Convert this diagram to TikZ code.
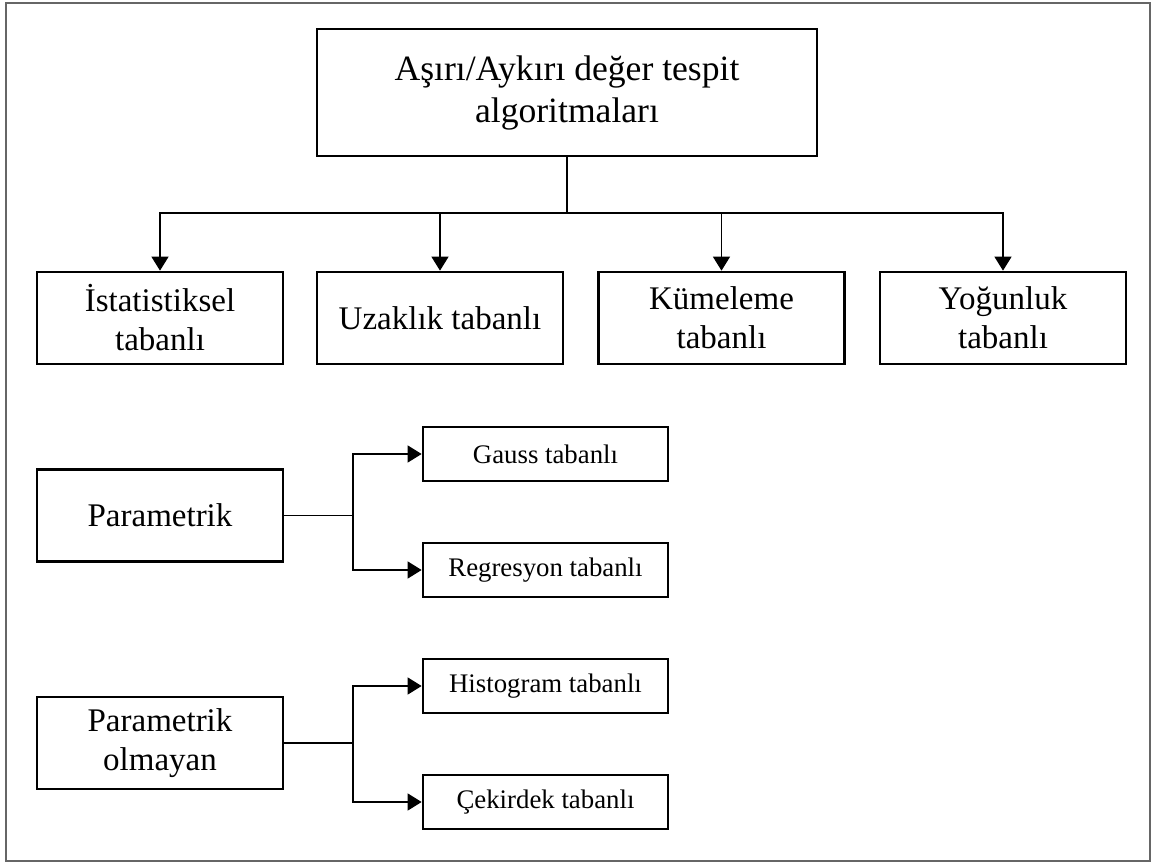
\documentclass[tikz,border=0pt]{standalone}
\usepackage{fontspec}
\setmainfont{Liberation Serif}
\usetikzlibrary{arrows.meta,positioning}

\begin{document}
\begin{tikzpicture}[
  x=0.5pt, y=-0.5pt,
  box/.style={draw, line width=1.35pt, align=center, inner sep=2pt},
  topbox/.style={box, minimum width=250pt, minimum height=63.5pt, font=\fontsize{17.8}{21}\selectfont},
  kind/.style={box, minimum width=123pt, minimum height=46pt, font=\fontsize{16.5}{19.5}\selectfont},
  leaf/.style={box, minimum width=122.5pt, minimum height=27pt, font=\fontsize{13.4}{15}\selectfont},
  link/.style={line width=0.65pt},
  >={Triangle[width=8.5pt,length=7pt]}
]
\useasboundingbox (0,0) rectangle (1153,863);
\draw[black!60, line width=0.8pt] (6,3) rectangle (1150,861);

\node[topbox] (algo) at (567,92.5) {Aşırı/Aykırı değer tespit\\algoritmaları};

\node[kind] (stat) at (160,318) {İstatistiksel\\tabanlı};
\node[kind] (dist) at (440,318) {Uzaklık tabanlı};
\node[kind] (clus) at (721.5,318) {Kümeleme\\tabanlı};
\node[kind] (dens) at (1003,318) {Yoğunluk\\tabanlı};

\node[kind] (param) at (160,515.5) {Parametrik};
\node[kind] (nonparam) at (160,743) {Parametrik\\olmayan};

\node[leaf] (gauss) at (545.5,454) {Gauss tabanlı};
\node[leaf] (regr) at (545.5,570) {Regresyon tabanlı};
\node[leaf] (hist) at (545.5,686) {Histogram tabanlı};
\node[leaf] (kern) at (545.5,802) {Çekirdek tabanlı};

% main tree
\coordinate (bus) at (567,213);
\draw[link, line width=1pt] (algo) -- (bus);
\foreach \n in {stat,dist,clus,dens}
  \draw[link,->] (bus) -| (\n);

% sub branches
\coordinate (pj) at (353,515.5);
\coordinate (nj) at (353,743);
\draw[link] (param) -- (pj);
\draw[link,->] (pj) |- (gauss);
\draw[link,->] (pj) |- (regr);
\draw[link] (nonparam) -- (nj);
\draw[link,->] (nj) |- (hist);
\draw[link,->] (nj) |- (kern);
\end{tikzpicture}
\end{document}
